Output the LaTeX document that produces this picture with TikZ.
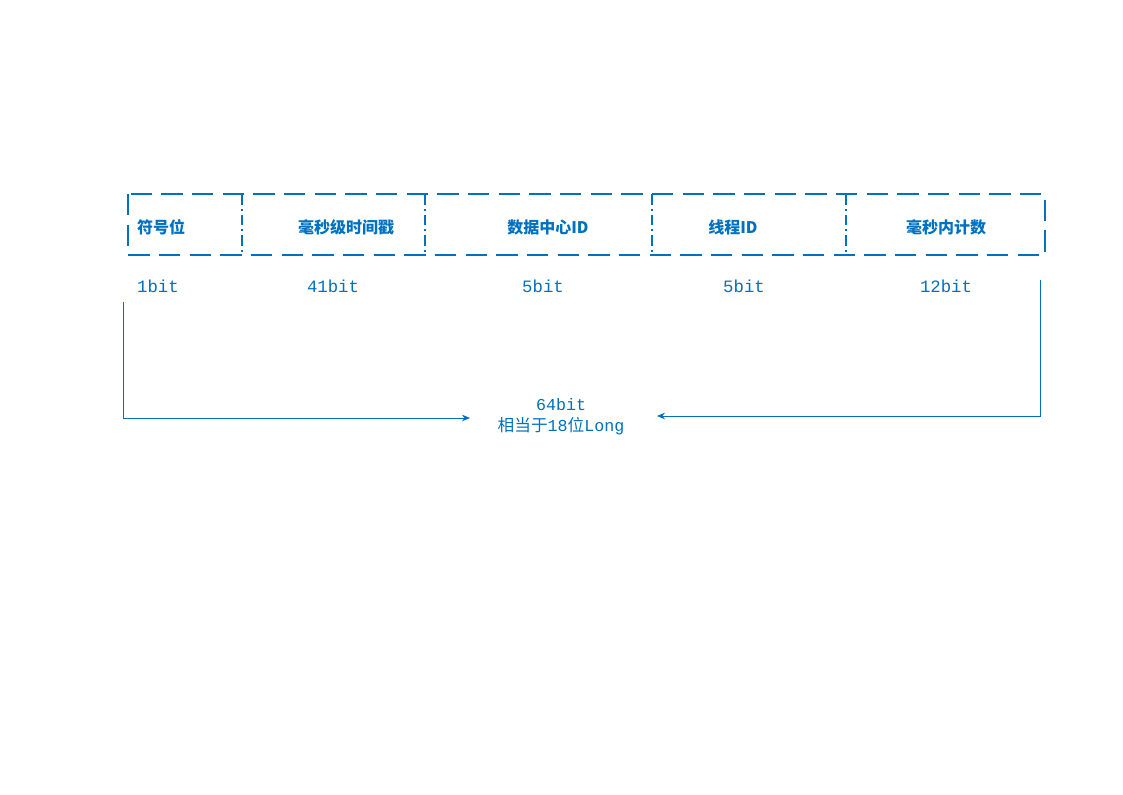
\documentclass[tikz,border=0pt]{standalone}
\usepackage{fontspec}
\newfontfamily\cjk{Noto Sans CJK SC}
\setmonofont{Liberation Mono}
\usetikzlibrary{arrows.meta,positioning}
\definecolor{idblue}{RGB}{0,112,192}
\tikzset{
	field/.style={font=\cjk\bfseries\fontsize{12}{14}\selectfont, text=idblue},
	bits/.style={font=\ttfamily\fontsize{13}{15}\selectfont, text=idblue},
	total/.style={font=\cjk\fontsize{12.5}{16}\selectfont, text=idblue, align=center, inner sep=1pt},
	link/.style={draw=idblue, line width=0.75pt, -{Stealth[length=6pt,width=5pt]}}
}
\begin{document}
\begin{tikzpicture}[x=0.75pt, y=-0.75pt]
			\useasboundingbox (0,0) rectangle (1123,794);
			% field borders
			\coordinate (b0) at (128,194); \coordinate (e0) at (128,255);
			\coordinate (b1) at (242,194); \coordinate (e1) at (242,255);
			\coordinate (b2) at (425,194); \coordinate (e2) at (425,255);
			\coordinate (b3) at (652,194); \coordinate (e3) at (652,255);
			\coordinate (b4) at (846,194); \coordinate (e4) at (846,255);
			\coordinate (b5) at (1045,194); \coordinate (e5) at (1045,255);
			\draw[idblue, line width=1.5pt, dash pattern=on 16pt off 7pt] (b0) rectangle (e5);
			\foreach \i in {1,...,4}
				\draw[idblue, line width=1.2pt, dash pattern=on 8pt off 3pt on 1.5pt off 3pt] (b\i) -- (e\i);
			% field names
			\node[field] (sign) at (161,227) {符号位};
			\node[field] (stamp) at (346,227) {毫秒级时间戳};
			\node[field] (center) at (548,227) {数据中心ID};
			\node[field] (thread) at (733,227) {线程ID};
			\node[field] (seq) at (946,227) {毫秒内计数};
			% widths
			\node[bits] (w1) at (158,286) {1bit};
			\node[bits] (w2) at (333,286) {41bit};
			\node[bits] (w3) at (543,286) {5bit};
			\node[bits] (w4) at (744,286) {5bit};
			\node[bits] (w5) at (946,286) {12bit};
			\node[total] (sum) at (561,417) {\ttfamily 64bit\\相当于\ttfamily 18\cjk 位\ttfamily Long};
			\coordinate (l0) at (123,302); \coordinate (l1) at (123,418); \coordinate (l2) at (470,418);
			\coordinate (r0) at (1040,280); \coordinate (r1) at (1040,416); \coordinate (r2) at (657,416);
			\draw[link] (l0) -- (l1) -- (l2);
			\draw[link] (r0) -- (r1) -- (r2);
		\end{tikzpicture}
\end{document}
